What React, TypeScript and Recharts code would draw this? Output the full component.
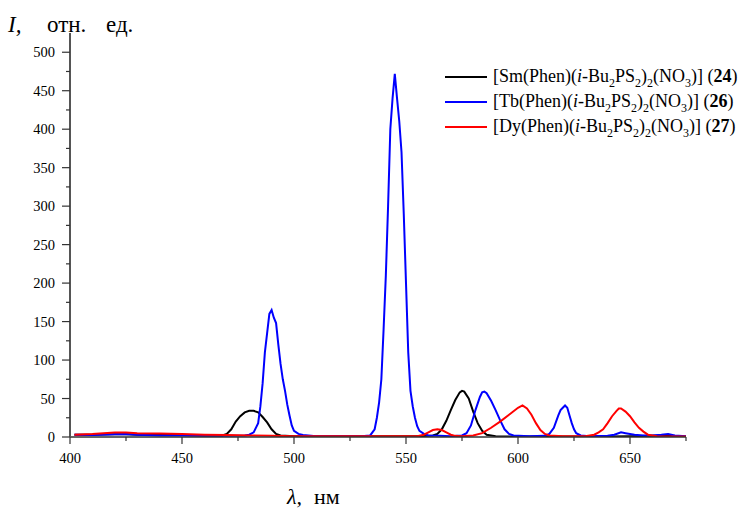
import React from "react";
import { LineChart, Line, XAxis, YAxis, Label } from "recharts";

// Wavelength ticks and intensity ticks (with minor ticks at half-steps)
const xTicks = [400, 425, 450, 475, 500, 525, 550, 575, 600, 625, 650, 675];
const yTicks = [0, 25, 50, 75, 100, 125, 150, 175, 200, 225, 250, 275, 300, 325, 350, 375, 400, 425, 450, 475, 500];

// [Sm(Phen)(i-Bu2PS2)2(NO3)] (24)
const smWl = [402, 410, 420, 425, 430, 440, 450, 460, 468, 470, 472, 474, 476, 478, 480, 482, 484, 486, 488, 490, 492, 494, 500, 520, 540, 555, 560, 562, 564, 566, 568, 570, 572, 574, 575, 576, 578, 580, 582, 584, 586, 590, 600, 640, 650, 660, 665, 670, 675];
const smI = [3, 3, 3.5, 3.5, 3, 3, 2.5, 2, 2, 4, 10, 20, 27, 32, 34, 34, 32, 26, 19, 10, 4, 2, 1, 1, 1, 1, 1.5, 2, 4, 10, 21, 35, 48, 58, 60, 59, 50, 33, 18, 8, 3, 1, 0.5, 0.5, 1, 1.5, 2, 1, 0.5];

// [Tb(Phen)(i-Bu2PS2)2(NO3)] (26)
const tbWl = [402, 410, 420, 425, 430, 440, 450, 460, 470, 478, 480, 482, 484, 485, 486, 487, 488, 489, 490, 491, 492, 493, 494, 495, 496, 497, 498, 499, 500, 502, 504, 510, 520, 530, 534, 536, 537, 538, 539, 540, 541, 542, 543, 544, 545, 546, 547, 548, 549, 550, 551, 552, 553, 554, 555, 556, 558, 560, 565, 570, 575, 577, 579, 581, 583, 584, 585, 586, 588, 590, 592, 594, 596, 598, 605, 612, 614, 616, 618, 619, 620, 621, 622, 623, 624, 625, 626, 628, 632, 640, 643, 646, 648, 652, 656, 660, 664, 667, 670, 675];
const tbI = [3, 2.5, 3.5, 4, 3, 2, 2, 1.5, 1.5, 2, 3, 6, 18, 40, 70, 110, 135, 160, 165, 155, 148, 120, 95, 75, 60, 42, 28, 15, 8, 4, 2.5, 1, 1, 1, 2, 10, 25, 45, 75, 140, 210, 300, 400, 440, 472, 440, 410, 370, 290, 200, 110, 60, 40, 25, 14, 8, 4, 2, 1.5, 1, 2, 5, 15, 35, 52, 58, 59, 57, 47, 35, 22, 10, 4, 2, 1, 1.5, 4, 12, 28, 35, 38, 41, 38, 28, 18, 10, 5, 2, 1, 1.5, 3, 6, 5, 3, 2, 2, 3, 4, 2, 1];

// [Dy(Phen)(i-Bu2PS2)2(NO3)] (27)
const dyWl = [402, 410, 415, 420, 425, 430, 440, 450, 460, 470, 480, 490, 500, 540, 555, 558, 560, 562, 564, 566, 568, 570, 572, 575, 580, 584, 588, 592, 596, 600, 602, 604, 606, 608, 610, 612, 614, 620, 630, 634, 636, 638, 640, 642, 644, 645, 646, 648, 650, 652, 654, 656, 658, 662, 675];
const dyI = [3, 4, 5, 6, 6, 5, 4.5, 4, 3, 2.5, 2, 1.5, 1, 1, 1, 3, 6, 9, 10, 9, 6, 3, 1.5, 1, 2, 5, 12, 20, 29, 38, 41, 37, 29, 18, 9, 4, 2, 1, 1, 3, 6, 10, 18, 27, 34, 37, 37, 33, 27, 19, 12, 7, 3, 1, 0.5];

const toPoints = (wl: number[], iv: number[]) => wl.map((w, i) => ({ wl: w, v: iv[i] }));
const smData = toPoints(smWl, smI);
const tbData = toPoints(tbWl, tbI);
const dyData = toPoints(dyWl, dyI);

const FONT = "'Liberation Serif', 'Times New Roman', serif";
const AXIS = "#333";

const YTick = (props: any) => {
  const { x, y, payload } = props;
  const major = payload.value % 50 === 0;
  return (
    <g>
      <line x1={x} x2={x - (major ? 8 : 4)} y1={y} y2={y} stroke={AXIS} strokeWidth={1.2} />
      {major && (
        <text x={x - 15} y={y} dy="0.35em" textAnchor="end" fontFamily={FONT} fontSize={14.5} fill="#000">
          {payload.value}
        </text>
      )}
    </g>
  );
};

const XTick = (props: any) => {
  const { x, y, payload } = props;
  const major = payload.value % 50 === 0;
  return (
    <g>
      <line x1={x} x2={x} y1={y} y2={y + (major ? 7 : 4)} stroke={AXIS} strokeWidth={1.2} />
      {major && (
        <text x={x} y={y + 26} textAnchor="middle" fontFamily={FONT} fontSize={14.5} fill="#000">
          {payload.value}
        </text>
      )}
    </g>
  );
};

const sub = (s: string) => (
  <span style={{ fontSize: 12, verticalAlign: "-5px", lineHeight: 0 }}>{s}</span>
);

const legendRows = [
  { el: "Sm", num: "24", color: "#000000" },
  { el: "Tb", num: "26", color: "#0000ff" },
  { el: "Dy", num: "27", color: "#ff0000" },
];

const LegendBox = () => (
  <div style={{ position: "absolute", left: 445, top: 64, fontFamily: FONT, fontSize: 18, color: "#000" }}>
    {legendRows.map((r) => (
      <div key={r.el} style={{ display: "flex", alignItems: "center", height: 25, whiteSpace: "nowrap" }}>
        <div style={{ width: 42, height: 0, borderTop: `2px solid ${r.color}`, marginRight: 6 }} />
        <span>
          [{r.el}(Phen)(<i>i</i>-Bu{sub("2")}PS{sub("2")}){sub("2")}(NO{sub("3")})] (<b>{r.num}</b>)
        </span>
      </div>
    ))}
  </div>
);

export default function App() {
  return (
    <div style={{ position: "absolute", left: 0, top: 0, width: 746, height: 509, background: "#fff" }}>
      <LineChart width={746} height={509} margin={{ top: 33, right: 60, left: 0, bottom: 0 }}>
        <XAxis
          dataKey="wl"
          type="number"
          domain={[400, 675]}
          ticks={xTicks}
          allowDataOverflow
          height={72}
          tickSize={0}
          tickMargin={0}
          tickLine={false}
          tick={XTick}
          axisLine={{ stroke: AXIS, strokeWidth: 1.5 }}
          interval={0}
        >
          <Label
            content={() => (
              <text y={504} fontFamily={FONT} fontSize={22} fill="#000">
                <tspan x={287} fontStyle="italic">λ,</tspan>
                <tspan x={314}>нм</tspan>
              </text>
            )}
          />
        </XAxis>
        <YAxis
          dataKey="v"
          type="number"
          domain={[0, 525]}
          ticks={yTicks}
          allowDataOverflow
          width={70}
          tickSize={0}
          tickMargin={0}
          tickLine={false}
          tick={YTick}
          axisLine={{ stroke: "#555", strokeWidth: 2 }}
          interval={0}
        >
          <Label
            content={() => (
              <text y={32} fontFamily={FONT} fontSize={23} fill="#000">
                <tspan x={8} fontStyle="italic">I,</tspan>
                <tspan x={47}>отн.</tspan>
                <tspan x={106}>ед.</tspan>
              </text>
            )}
          />
        </YAxis>
        <Line data={smData} dataKey="v" stroke="#000000" strokeWidth={2} dot={false} isAnimationActive={false} type="linear" />
        <Line data={tbData} dataKey="v" stroke="#0000ff" strokeWidth={2} dot={false} isAnimationActive={false} type="linear" />
        <Line data={dyData} dataKey="v" stroke="#ff0000" strokeWidth={2} dot={false} isAnimationActive={false} type="linear" />
      </LineChart>
      <LegendBox />
    </div>
  );
}
